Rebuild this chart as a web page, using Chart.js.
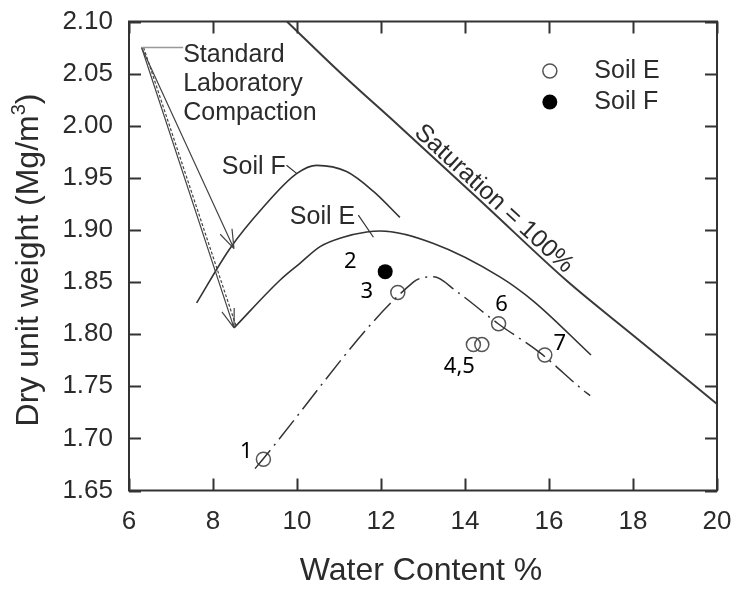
<!DOCTYPE html>
<html>
<head>
<meta charset="utf-8">
<script src="https://cdn.jsdelivr.net/npm/chart.js@4.4.1/dist/chart.umd.min.js"></script>
<style>
  html, body { margin: 0; padding: 0; background: #fff; }
  #wrap { width: 736px; height: 590px; }
</style>
</head>
<body>
<div id="wrap"><canvas id="compactionChart" width="736" height="590"></canvas></div>
<script>
// axis ticks
const waterTicks = [6, 8, 10, 12, 14, 16, 18, 20];
const unitTicks = [1.65, 1.70, 1.75, 1.80, 1.85, 1.90, 1.95, 2.00, 2.05, 2.10];

// 100% saturation line
const saturationW = [9.76, 11.0, 12.45, 14.5, 16.43, 18.0, 20.0];
const saturationG = [2.10, 2.052, 1.999, 1.923, 1.851, 1.799, 1.733];

// standard laboratory compaction curves
const soilFCurveW = [7.61, 8.40, 9.20, 9.99, 10.47, 11.18, 11.82, 12.45];
const soilFCurveG = [1.830, 1.882, 1.922, 1.954, 1.962, 1.956, 1.937, 1.912];
const soilECurveW = [8.50, 9.60, 10.07, 10.55, 11.10, 11.66, 11.98, 13.25, 14.83, 15.62, 17.0];
const soilECurveG = [1.806, 1.852, 1.868, 1.884, 1.893, 1.898, 1.899, 1.887, 1.855, 1.832, 1.780];

// field compaction curve (dash-dot)
const fieldCurveW = [9.0, 12.77, 12.97, 13.25, 13.80, 14.79, 15.79, 16.82, 16.98];
const fieldCurveG = [1.671, 1.850, 1.854, 1.855, 1.841, 1.810, 1.782, 1.746, 1.741];

// test points
const soilEPointW = [9.2, 12.4, 14.2, 14.4, 14.8, 15.9];
const soilEPointG = [1.68, 1.84, 1.79, 1.79, 1.81, 1.78];
const soilEPointNames = ['1', '3', '4,5', '', '6', '7'];
const soilFPointW = [12.1];
const soilFPointG = [1.86];
const soilFPointNames = ['2'];

// arrows from the "Standard Laboratory Compaction" note
const arrowFrom = [6.3, 2.075];
const arrowTipsW = [8.5, 8.5];
const arrowTipsG = [1.882, 1.806];

const toXY = (ws, gs) => ws.map((w, i) => ({ x: w, y: gs[i] }));

const FONT = 'Liberation Sans, Arial, sans-serif';
const INK = '#2b2b2b';

const lineSet = (data, extra) => Object.assign({
  data, showLine: true, pointRadius: 0, borderColor: '#333', borderWidth: 1.6,
  cubicInterpolationMode: 'monotone', fill: false
}, extra || {});

const decorations = {
  id: 'decorations',
  afterDatasetsDraw(chart) {
    const { ctx, chartArea: a, scales: { x, y } } = chart;
    const px = v => x.getPixelForValue(v);
    const py = v => y.getPixelForValue(v);
    ctx.save();

    // frame with inward ticks on all four sides
    ctx.strokeStyle = '#333';
    ctx.lineWidth = 2;
    ctx.strokeRect(a.left, a.top, a.right - a.left, a.bottom - a.top);
    ctx.beginPath();
    waterTicks.forEach(v => {
      const xx = Math.round(px(v)) + 0.5;
      ctx.moveTo(xx, a.bottom); ctx.lineTo(xx, a.bottom - 12);
      ctx.moveTo(xx, a.top); ctx.lineTo(xx, a.top + 12);
    });
    unitTicks.forEach(v => {
      const yy = Math.round(py(v)) + 0.5;
      ctx.moveTo(a.left, yy); ctx.lineTo(a.left + 12, yy);
      ctx.moveTo(a.right, yy); ctx.lineTo(a.right - 12, yy);
    });
    ctx.stroke();

    // arrows
    const ox = px(arrowFrom[0]), oy = py(arrowFrom[1]);
    ctx.strokeStyle = '#444';
    ctx.lineWidth = 1.2;
    arrowTipsW.forEach((w, i) => {
      const tx = px(w), ty = py(arrowTipsG[i]);
      ctx.beginPath();
      ctx.moveTo(ox, oy); ctx.lineTo(tx, ty);
      const ang = Math.atan2(ty - oy, tx - ox);
      [-0.33, 0.33].forEach(d => {
        ctx.moveTo(tx, ty);
        ctx.lineTo(tx - 20 * Math.cos(ang + d), ty - 20 * Math.sin(ang + d));
      });
      ctx.stroke();
    });
    // doubled stroke on the lower arrow shaft
    ctx.setLineDash([3, 2]);
    ctx.beginPath();
    ctx.moveTo(ox + 2, oy); ctx.lineTo(px(arrowTipsW[1]) + 2, py(arrowTipsG[1]) - 2);
    ctx.stroke();
    ctx.setLineDash([]);

    // leader to the note
    ctx.strokeStyle = '#999';
    ctx.lineWidth = 1.5;
    ctx.beginPath();
    ctx.moveTo(ox, oy); ctx.lineTo(px(7.29), oy);
    ctx.stroke();

    ctx.fillStyle = INK;
    ctx.font = '25px ' + FONT;
    ctx.textAlign = 'left';
    ctx.textBaseline = 'middle';
    ['Standard', 'Laboratory', 'Compaction'].forEach((t, i) => {
      ctx.fillText(t, px(7.29), py(2.0679) + i * 29);
    });

    // curve labels with short leaders
    ctx.fillText('Soil F', px(8.21), py(1.9607));
    ctx.fillText('Soil E', px(9.83), py(1.9127));
    ctx.strokeStyle = '#333';
    ctx.lineWidth = 1.2;
    ctx.beginPath();
    ctx.moveTo(px(9.75), py(1.9621)); ctx.lineTo(px(9.99), py(1.9543));
    ctx.moveTo(px(11.46), py(1.9143)); ctx.lineTo(px(11.82), py(1.893));
    ctx.stroke();

    // saturation label along the line
    const sx1 = px(saturationW[2]), sy1 = py(saturationG[2]);
    const sx2 = px(saturationW[4]), sy2 = py(saturationG[4]);
    ctx.save();
    ctx.translate((sx1 + sx2) / 2 + 3, (sy1 + sy2) / 2 + 3);
    ctx.rotate(Math.atan2(sy2 - sy1, sx2 - sx1));
    ctx.textAlign = 'center';
    ctx.textBaseline = 'alphabetic';
    ctx.font = '25px ' + FONT;
    ctx.fillText('Saturation = 100%', 0, -4);
    ctx.restore();

    // point numbers
    ctx.font = '22px "Noto Sans", sans-serif';
    ctx.fillStyle = '#000';
    ctx.textAlign = 'center';
    const eOffsets = [[-17, -7], [-31, -1], [-14, 22], [0, 0], [3, -19], [15, -11]];
    soilEPointNames.forEach((n, i) => {
      if (!n) return;
      ctx.fillText(n, px(soilEPointW[i]) + eOffsets[i][0], py(soilEPointG[i]) + eOffsets[i][1]);
    });
    soilFPointNames.forEach((n, i) => {
      ctx.fillText(n, px(soilFPointW[i]) - 35, py(soilFPointG[i]) - 10);
    });

    // legend
    const lx = px(16.02);
    const ly = [py(2.0525), py(2.0227)];
    ctx.lineWidth = 1.5;
    ctx.strokeStyle = '#555';
    ctx.beginPath(); ctx.arc(lx, ly[0], 7, 0, Math.PI * 2); ctx.stroke();
    ctx.fillStyle = '#000';
    ctx.beginPath(); ctx.arc(lx, ly[1], 7.5, 0, Math.PI * 2); ctx.fill();
    ctx.fillStyle = INK;
    ctx.font = '25px ' + FONT;
    ctx.textAlign = 'left';
    ctx.fillText('Soil E', px(17.08), ly[0]);
    ctx.fillText('Soil F', px(17.08), ly[1]);

    // axis titles
    ctx.font = '32px ' + FONT;
    ctx.textAlign = 'center';
    ctx.textBaseline = 'alphabetic';
    ctx.fillText('Water Content %', 421, 580);

    ctx.save();
    ctx.translate(38, 260);
    ctx.rotate(-Math.PI / 2);
    const main = 'Dry unit weight (Mg/m';
    ctx.font = '32px ' + FONT;
    const w1 = ctx.measureText(main).width;
    const w3 = ctx.measureText(')').width;
    ctx.font = '20px ' + FONT;
    const w2 = ctx.measureText('3').width;
    let sx = -(w1 + w2 + w3) / 2;
    ctx.textAlign = 'left';
    ctx.font = '32px ' + FONT;
    ctx.fillText(main, sx, 0);
    ctx.font = '20px ' + FONT;
    ctx.fillText('3', sx + w1, -13);
    ctx.font = '32px ' + FONT;
    ctx.fillText(')', sx + w1 + w2, 0);
    ctx.restore();

    ctx.restore();
  }
};

new Chart(document.getElementById('compactionChart').getContext('2d'), {
  type: 'scatter',
  data: {
    datasets: [
      lineSet(toXY(saturationW, saturationG), { borderColor: '#3a3a3a', borderWidth: 2 }),
      lineSet(toXY(soilFCurveW, soilFCurveG)),
      lineSet(toXY(soilECurveW, soilECurveG)),
      lineSet(toXY(fieldCurveW, fieldCurveG), { borderDash: [24, 6, 2, 6], borderWidth: 1.5 }),
      {
        label: 'Soil E',
        data: toXY(soilEPointW, soilEPointG),
        pointRadius: 7, pointBorderWidth: 1.5,
        pointBorderColor: '#555', pointBackgroundColor: 'rgba(0,0,0,0)'
      },
      {
        label: 'Soil F',
        data: toXY(soilFPointW, soilFPointG),
        pointRadius: 7.5, pointBorderWidth: 0,
        pointBackgroundColor: '#000', pointBorderColor: '#000'
      }
    ]
  },
  options: {
    responsive: false,
    animation: false,
    devicePixelRatio: 1,
    layout: { padding: { left: 0, top: 21.5, right: 19, bottom: 0 } },
    plugins: { legend: { display: false }, tooltip: { enabled: false } },
    scales: {
      x: {
        type: 'linear', min: 6, max: 20,
        afterBuildTicks: s => { s.ticks = waterTicks.map(v => ({ value: v })); },
        afterFit: s => { s.height = 99.5; s.paddingLeft = 0; s.paddingRight = 0; },
        grid: { display: false, drawTicks: false },
        border: { display: false },
        ticks: { color: INK, font: { family: FONT, size: 26 }, padding: 16, maxRotation: 0, autoSkip: false }
      },
      y: {
        type: 'linear', min: 1.65, max: 2.10,
        afterBuildTicks: s => { s.ticks = unitTicks.map(v => ({ value: v })); },
        afterFit: s => { s.width = 129; s.paddingTop = 0; s.paddingBottom = 0; },
        grid: { display: false, drawTicks: false },
        border: { display: false },
        ticks: {
          color: INK, font: { family: FONT, size: 26 }, padding: 16, autoSkip: false,
          callback: v => Number(v).toFixed(2)
        }
      }
    }
  },
  plugins: [decorations]
});
</script>
</body>
</html>
